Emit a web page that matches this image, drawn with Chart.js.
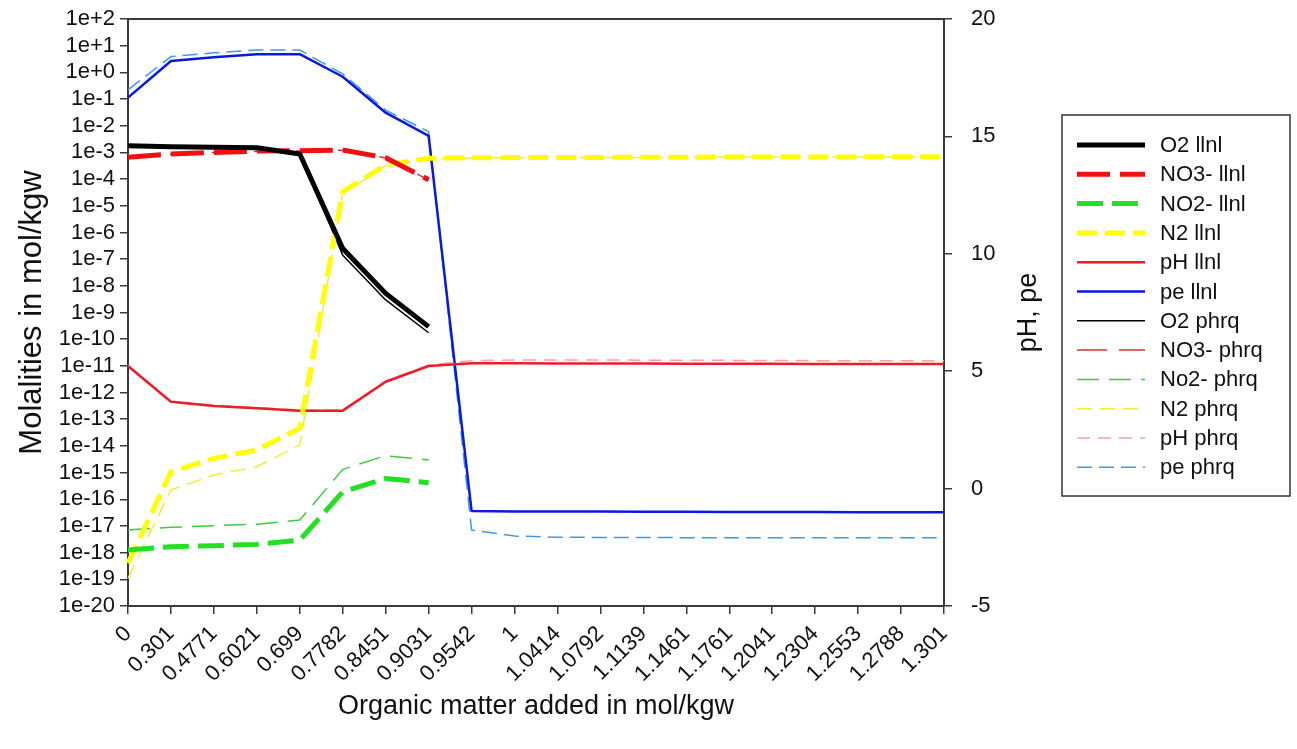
<!DOCTYPE html>
<html>
<head>
<meta charset="utf-8">
<script src="https://cdn.jsdelivr.net/npm/chart.js@4.4.1/dist/chart.umd.min.js"></script>
<style>
html,body{margin:0;padding:0;background:#fff;}
#wrap{width:1297px;height:749px;position:relative;}
</style>
</head>
<body>
<div id="wrap"><canvas id="c" width="1297" height="749"></canvas></div>
<script>
// ---- categories (organic matter added, mol/kgw) ----
const categories = ['0','0.301','0.4771','0.6021','0.699','0.7782','0.8451','0.9031','0.9542','1','1.0414','1.0792','1.1139','1.1461','1.1761','1.2041','1.2304','1.2553','1.2788','1.301'];

// ---- left axis (molalities, log) ----
const o2Llnl  = [1.78e-3,1.62e-3,1.55e-3,1.51e-3,8.7e-4,2.5e-7,5.2e-9,2.95e-10,null,null,null,null,null,null,null,null,null,null,null,null];
const no3Llnl = [6.6e-4,8.7e-4,1.0e-3,1.12e-3,1.15e-3,1.23e-3,6.3e-4,9.5e-5,null,null,null,null,null,null,null,null,null,null,null,null];
const no2Llnl = [1.26e-18,1.66e-18,1.82e-18,2.04e-18,2.95e-18,1.9e-16,6.0e-16,4.2e-16,null,null,null,null,null,null,null,null,null,null,null,null];
const n2Llnl  = [4.0e-19,1.07e-15,3.4e-15,7.1e-15,4.6e-14,3.4e-5,3.4e-4,6.0e-4,6.3e-4,6.4e-4,6.5e-4,6.5e-4,6.6e-4,6.6e-4,6.7e-4,6.7e-4,6.8e-4,6.8e-4,6.9e-4,6.9e-4];
const o2Phrq  = [1.78e-3,1.62e-3,1.55e-3,1.51e-3,8.7e-4,1.41e-7,2.95e-9,1.74e-10,null,null,null,null,null,null,null,null,null,null,null,null];
const no3Phrq = [6.5e-4,8.6e-4,1.0e-3,1.1e-3,1.14e-3,1.2e-3,6.2e-4,9.3e-5,null,null,null,null,null,null,null,null,null,null,null,null];
const no2Phrq = [7.1e-18,8.9e-18,1.02e-17,1.17e-17,1.66e-17,1.32e-15,4.3e-15,2.95e-15,null,null,null,null,null,null,null,null,null,null,null,null];
const n2Phrq  = [1.1e-19,2.24e-16,8.1e-16,1.66e-15,1.07e-14,2.8e-5,3.2e-4,5.6e-4,6.2e-4,6.3e-4,6.4e-4,6.5e-4,6.5e-4,6.6e-4,6.6e-4,6.7e-4,6.7e-4,6.8e-4,6.8e-4,6.9e-4];

// ---- right axis (pH, pe) ----
const phLlnl = [5.22,3.7,3.52,3.42,3.32,3.32,4.55,5.22,5.34,5.34,5.33,5.33,5.33,5.32,5.32,5.32,5.31,5.31,5.31,5.31];
const peLlnl = [16.65,18.21,18.37,18.5,18.5,17.54,16.01,15.02,-0.95,-0.97,-0.98,-0.98,-0.99,-0.99,-1.0,-1.0,-1.0,-1.01,-1.01,-1.01];
const phPhrq = [5.25,3.72,3.55,3.45,3.35,3.35,4.58,5.26,5.45,5.48,5.48,5.48,5.47,5.47,5.46,5.46,5.45,5.45,5.45,5.45];
const pePhrq = [16.98,18.4,18.56,18.68,18.68,17.66,16.12,15.2,-1.76,-2.02,-2.07,-2.08,-2.08,-2.09,-2.09,-2.09,-2.09,-2.09,-2.09,-2.09];

// ---- tick labels ----
const yTickValues = [1e-20,1e-19,1e-18,1e-17,1e-16,1e-15,1e-14,1e-13,1e-12,1e-11,1e-10,1e-9,1e-8,1e-7,1e-6,1e-5,1e-4,1e-3,1e-2,1e-1,1e0,1e1,1e2];
const yTickLabels = ['1e-20','1e-19','1e-18','1e-17','1e-16','1e-15','1e-14','1e-13','1e-12','1e-11','1e-10','1e-9','1e-8','1e-7','1e-6','1e-5','1e-4','1e-3','1e-2','1e-1','1e+0','1e+1','1e+2'];

const FONT = "'Liberation Sans', Arial, sans-serif";
const AXIS = '#3a3a3a';

function ds(label, data, color, width, dash, axis){
  return {label, data, borderColor: color, backgroundColor: color, borderWidth: width,
    borderDash: dash, yAxisID: axis, pointRadius: 0, tension: 0, fill: false, spanGaps: false,
    borderCapStyle: 'butt', borderJoinStyle: 'round'};
}

const datasets = [
  ds('O2 llnl',  o2Llnl,  '#000000', 5, [], 'y'),
  ds('NO3- llnl',no3Llnl, '#f01010', 5, [33,10], 'y'),
  ds('NO2- llnl',no2Llnl, '#22e022', 5, [26,9], 'y'),
  ds('N2 llnl',  n2Llnl,  '#ffff00', 5, [20,8], 'y'),
  ds('pH llnl',  phLlnl,  '#ee1c25', 2.5, [], 'y2'),
  ds('pe llnl',  peLlnl,  '#0a18e0', 2.5, [], 'y2'),
  ds('O2 phrq',  o2Phrq,  '#000000', 1.5, [], 'y'),
  ds('NO3- phrq',no3Phrq, '#d43434', 1.5, [30,12], 'y'),
  ds('No2- phrq',no2Phrq, '#38d038', 1.5, [22,10], 'y'),
  ds('N2 phrq',  n2Phrq,  '#f2ee30', 1.5, [15,8], 'y'),
  ds('pH phrq',  phPhrq,  '#f5a0b4', 1.5, [13,8], 'y2'),
  ds('pe phrq',  pePhrq,  '#3c9be6', 1.5, [15,7], 'y2')
];

const decorPlugin = {
  id: 'decor',
  afterDraw(chart){
    const ctx = chart.ctx, a = chart.chartArea;
    ctx.save();
    // top frame line
    ctx.strokeStyle = AXIS; ctx.lineWidth = 2;
    ctx.beginPath(); ctx.moveTo(a.left, a.top); ctx.lineTo(a.right, a.top); ctx.stroke();
    // right axis title (reads bottom-to-top)
    ctx.fillStyle = '#111';
    ctx.font = "27px " + FONT;
    ctx.textAlign = 'center'; ctx.textBaseline = 'middle';
    ctx.translate(a.right + 85, (a.top + a.bottom) / 2);
    ctx.rotate(-Math.PI / 2);
    ctx.fillText('pH, pe', 0, 0);
    ctx.restore();

    // legend box
    ctx.save();
    const bx = a.right + 118, by = 115, bw = 228, bh = 381;
    ctx.strokeStyle = '#333'; ctx.lineWidth = 1.5;
    ctx.strokeRect(bx, by, bw, bh);
    ctx.font = "22px " + FONT;
    ctx.textAlign = 'left'; ctx.textBaseline = 'middle';
    chart.data.datasets.forEach((d, i) => {
      const yy = by + 30 + i * 29.3;
      ctx.strokeStyle = d.borderColor;
      ctx.lineWidth = d.borderWidth;
      ctx.setLineDash(d.borderDash || []);
      ctx.lineCap = 'butt';
      ctx.beginPath(); ctx.moveTo(bx + 15, yy); ctx.lineTo(bx + 83, yy); ctx.stroke();
      ctx.setLineDash([]);
      ctx.fillStyle = '#111';
      ctx.fillText(d.label, bx + 98, yy + 1);
    });
    ctx.restore();
  }
};

function noVPad(s){ s.paddingTop = 0; s.paddingBottom = 0; }

new Chart(document.getElementById('c'), {
  type: 'line',
  data: { labels: categories, datasets },
  options: {
    responsive: false,
    animation: false,
    devicePixelRatio: 1,
    layout: { padding: { left: 0, top: 19, right: 243, bottom: 0 } },
    plugins: { legend: { display: false }, tooltip: { enabled: false } },
    scales: {
      x: {
        type: 'category',
        offset: false,
        afterFit: s => { s.height = 143; s.paddingLeft = 0; s.paddingRight = 0; },
        grid: { drawOnChartArea: false, tickLength: 8, color: AXIS, lineWidth: 1.5 },
        border: { display: true, color: AXIS, width: 2 },
        ticks: { autoSkip: false, maxRotation: 45, minRotation: 45, padding: 7, color: '#111', font: { family: FONT, size: 22 } },
        title: { display: true, text: 'Organic matter added in mol/kgw', color: '#111', font: { family: FONT, size: 27 }, padding: { top: 0, bottom: 26 } }
      },
      y: {
        type: 'logarithmic',
        position: 'left',
        min: 1e-20, max: 1e2,
        afterFit: s => { s.width = 128; noVPad(s); },
        afterBuildTicks: s => { s.ticks = yTickValues.map(v => ({ value: v, major: true })); },
        grid: { drawOnChartArea: false, tickLength: 8, color: AXIS, lineWidth: 1.5 },
        border: { display: true, color: AXIS, width: 2 },
        ticks: { autoSkip: false, padding: 5, color: '#111', font: { family: FONT, size: 22 },
          callback: (v, i) => yTickLabels[i] },
        title: { display: true, text: 'Molalities in mol/kgw', color: '#111', font: { family: FONT, size: 31 }, padding: { top: 14, bottom: 0 } }
      },
      y2: {
        type: 'linear',
        position: 'right',
        min: -5, max: 20,
        afterFit: s => { s.width = 110; noVPad(s); },
        grid: { drawOnChartArea: false, tickLength: 8, color: AXIS, lineWidth: 1.5 },
        border: { display: true, color: AXIS, width: 2 },
        ticks: { stepSize: 5, padding: 19, color: '#111', font: { family: FONT, size: 22 } }
      }
    }
  },
  plugins: [decorPlugin]
});
</script>
</body>
</html>
